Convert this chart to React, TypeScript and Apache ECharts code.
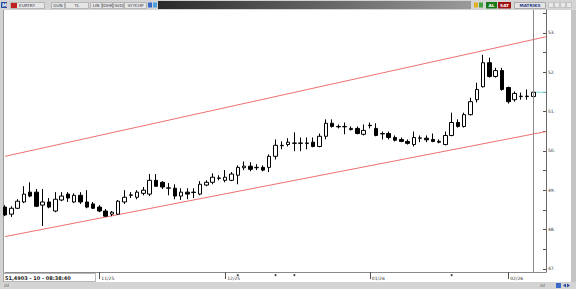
import React, { useEffect, useRef } from 'react';
import * as echarts from 'echarts';

// [open, close, low, high] — daily EURTRY candles
const candles: number[][] = [
  [48.57, 48.37, 48.34, 48.62],
  [48.39, 48.54, 48.32, 48.59],
  [48.54, 48.72, 48.52, 48.77],
  [48.70, 48.90, 48.67, 49.10],
  [48.95, 48.85, 48.82, 49.20],
  [48.95, 48.59, 48.57, 49.03],
  [48.62, 48.70, 48.09, 49.03],
  [48.70, 48.57, 48.54, 48.80],
  [48.47, 48.77, 48.44, 48.95],
  [48.75, 48.85, 48.72, 48.95],
  [48.90, 48.80, 48.70, 48.95],
  [48.70, 48.87, 48.67, 48.92],
  [48.87, 48.70, 48.65, 48.95],
  [48.70, 48.57, 48.54, 49.00],
  [48.65, 48.54, 48.52, 48.70],
  [48.57, 48.47, 48.44, 48.62],
  [48.47, 48.34, 48.32, 48.52],
  [48.39, 48.44, 48.34, 48.47],
  [48.39, 48.72, 48.37, 48.75],
  [48.70, 48.82, 48.65, 49.00],
  [48.87, 48.88, 48.80, 48.95],
  [48.82, 48.95, 48.77, 49.00],
  [48.92, 49.00, 48.87, 49.08],
  [48.90, 49.25, 48.85, 49.41],
  [49.25, 49.10, 49.08, 49.41],
  [49.20, 49.08, 49.03, 49.23],
  [49.05, 49.06, 48.87, 49.18],
  [49.05, 48.85, 48.77, 49.15],
  [48.85, 48.95, 48.75, 49.05],
  [48.95, 48.90, 48.77, 49.05],
  [48.94, 48.95, 48.80, 49.05],
  [48.90, 49.15, 48.87, 49.23],
  [49.13, 49.20, 49.10, 49.25],
  [49.20, 49.33, 49.15, 49.43],
  [49.30, 49.31, 49.25, 49.38],
  [49.25, 49.33, 49.20, 49.51],
  [49.25, 49.41, 49.23, 49.46],
  [49.38, 49.58, 49.15, 49.63],
  [49.57, 49.61, 49.51, 49.73],
  [49.61, 49.53, 49.48, 49.71],
  [49.57, 49.58, 49.51, 49.66],
  [49.58, 49.51, 49.48, 49.63],
  [49.58, 49.86, 49.46, 49.91],
  [49.86, 50.14, 49.78, 50.29],
  [50.13, 50.14, 50.04, 50.24],
  [50.16, 50.22, 50.11, 50.32],
  [50.19, 50.20, 49.99, 50.47],
  [50.19, 50.20, 49.99, 50.34],
  [50.20, 50.19, 50.04, 50.34],
  [50.22, 50.11, 50.09, 50.34],
  [50.11, 50.37, 50.09, 50.44],
  [50.37, 50.70, 50.29, 50.80],
  [50.70, 50.62, 50.59, 50.80],
  [50.62, 50.61, 50.57, 50.67],
  [50.61, 50.62, 50.42, 50.72],
  [50.54, 50.57, 50.52, 50.62],
  [50.57, 50.44, 50.42, 50.62],
  [50.42, 50.52, 50.39, 50.67],
  [50.65, 50.64, 50.57, 50.72],
  [50.57, 50.39, 50.37, 50.70],
  [50.44, 50.43, 50.29, 50.49],
  [50.44, 50.34, 50.29, 50.49],
  [50.34, 50.27, 50.24, 50.39],
  [50.29, 50.24, 50.22, 50.34],
  [50.24, 50.19, 50.16, 50.29],
  [50.16, 50.34, 50.11, 50.49],
  [50.32, 50.33, 50.22, 50.39],
  [50.32, 50.28, 50.22, 50.39],
  [50.29, 50.24, 50.22, 50.44],
  [50.24, 50.22, 50.19, 50.29],
  [50.16, 50.39, 50.14, 50.49],
  [50.39, 50.72, 50.37, 50.97],
  [50.72, 50.62, 50.59, 50.80],
  [50.62, 50.92, 50.59, 50.97],
  [50.92, 51.25, 50.90, 51.35],
  [51.30, 51.56, 51.23, 51.73],
  [51.63, 52.24, 51.61, 52.44],
  [52.24, 51.89, 51.86, 52.37],
  [51.89, 52.04, 51.86, 52.11],
  [52.04, 51.56, 51.53, 52.11],
  [51.61, 51.25, 51.20, 51.63],
  [51.30, 51.46, 51.25, 51.51],
  [51.38, 51.39, 51.30, 51.48],
  [51.39, 51.38, 51.30, 51.56],
  [51.38, 51.49, 51.33, 51.53],
];
const futureSlots = 2;
const monthLabels = ['11/25', '12/25', '01/26', '02/26'];
const monthStartIdx = [15, 35, 58, 80];
const yLabelValues = [47, 48, 49, 50, 51, 52, 53];
const yTickValues = [47, 47.5, 48, 48.5, 49, 49.5, 50, 50.5, 51, 51.5, 52, 52.5, 53, 53.5];
const yMin = 46.92;
const yMax = 53.58;
const upperChannel = [[0, 49.86], [86, 52.9]];
const lowerChannel = [[0, 47.82], [86, 50.49]];
const lastPrice = 51.4903;
const eventIdx = [37, 43, 46, 71];
const eventLevel = 46.84;
const statusText = '51,4903 - 10 - 08:38:40';
const toolbarItems = ['EURTRY', 'GUN', 'TL', 'LIN', 'IOHK', 'SVD', 'SYYCHP'];

const FONT = 'DejaVu Sans';

export default function App() {
  const ref = useRef<HTMLDivElement>(null);
  useEffect(() => {
    if (!ref.current) return;
    const chart = echarts.init(ref.current, undefined, { renderer: 'svg' });
    const N = candles.length + futureSlots;
    const categories = Array.from({ length: N }, (_, i) => String(i));
    const lastIdx = candles.length - 1;

    const tbX = [10, 51, 65, 90, 102, 113, 124];
    const tbW = [34, 13, 23, 11, 10, 10, 22];
    const toolbar: any[] = [
      { type: 'rect', shape: { x: 0, y: 0, width: 576, height: 10 }, style: { fill: '#d4d4d4' } },
      { type: 'rect', shape: { x: 1, y: 2, width: 6, height: 6 }, style: { fill: '#2a4a9a' } },
      { type: 'text', x: 2, y: 5, style: { text: 'M', fill: '#fff', fontSize: 5, fontFamily: FONT, verticalAlign: 'middle', fontWeight: 'bold' } },
    ];
    toolbarItems.forEach((t, i) => {
      toolbar.push({ type: 'rect', shape: { x: tbX[i] + 0.5, y: 2.5, width: tbW[i], height: 6 }, style: { fill: '#e6e6e6', stroke: '#9a9a9a', lineWidth: 0.6 } });
      toolbar.push({ type: 'text', x: tbX[i] + (i === 0 ? 9 : tbW[i] / 2 + 0.5), y: 5.6, style: { text: t, fill: '#334', fontSize: 4.2, fontFamily: FONT, align: i === 0 ? 'left' : 'center', verticalAlign: 'middle' } });
    });
    toolbar.push(
      { type: 'rect', shape: { x: 11, y: 3, width: 6, height: 5 }, style: { fill: '#c02020' } },
      { type: 'rect', shape: { x: 148, y: 2.5, width: 4, height: 5 }, style: { fill: '#3a6ac8' } },
      { type: 'rect', shape: { x: 153, y: 2.5, width: 4, height: 5 }, style: { fill: '#4aa0e0' } },
      {
        type: 'rect', shape: { x: 158, y: 1, width: 313, height: 8 },
        style: { fill: new echarts.graphic.LinearGradient(0, 0, 1, 0, [{ offset: 0, color: '#2a2a2a' }, { offset: 1, color: '#9a9a9a' }]) },
      },
      { type: 'rect', shape: { x: 474, y: 2.5, width: 4, height: 5 }, style: { fill: '#e0b020' } },
      { type: 'rect', shape: { x: 479, y: 2.5, width: 4, height: 5 }, style: { fill: '#40a040' } },
      { type: 'rect', shape: { x: 486, y: 2, width: 11, height: 6.5 }, style: { fill: '#1a7a1a' } },
      { type: 'text', x: 491.5, y: 5.4, style: { text: 'AL', fill: '#fff', fontSize: 4.2, fontFamily: FONT, align: 'center', verticalAlign: 'middle', fontWeight: 'bold' } },
      { type: 'rect', shape: { x: 498, y: 2, width: 13, height: 6.5 }, style: { fill: '#a01212' } },
      { type: 'text', x: 504.5, y: 5.4, style: { text: 'SAT', fill: '#fff', fontSize: 4.2, fontFamily: FONT, align: 'center', verticalAlign: 'middle', fontWeight: 'bold' } },
      { type: 'rect', shape: { x: 514.5, y: 2.5, width: 31, height: 6 }, style: { fill: '#e4e4e4', stroke: '#8a8a8a', lineWidth: 0.6 } },
      { type: 'text', x: 530, y: 5.6, style: { text: 'MATRIKS', fill: '#2a3a88', fontSize: 4.2, fontFamily: FONT, align: 'center', verticalAlign: 'middle', fontWeight: 'bold' } },
      { type: 'rect', shape: { x: 548.5, y: 2.5, width: 5, height: 5 }, style: { fill: '#e8e8e8', stroke: '#aaa', lineWidth: 0.5 } },
      { type: 'rect', shape: { x: 554.5, y: 2.5, width: 5, height: 5 }, style: { fill: '#e8e8e8', stroke: '#aaa', lineWidth: 0.5 } },
      { type: 'rect', shape: { x: 560.5, y: 2.5, width: 5, height: 5 }, style: { fill: '#e8e8e8', stroke: '#aaa', lineWidth: 0.5 } },
      { type: 'rect', shape: { x: 566.5, y: 2.5, width: 5, height: 5 }, style: { fill: '#e8e8e8', stroke: '#aaa', lineWidth: 0.5 } },
    );

    const frame: any[] = [
      { type: 'rect', shape: { x: 0, y: 10, width: 3, height: 279 }, style: { fill: '#d2d2d2' } },
      { type: 'line', shape: { x1: 3.5, y1: 10, x2: 3.5, y2: 282 }, style: { stroke: '#9a9a9a', lineWidth: 1 } },
      { type: 'rect', shape: { x: 571, y: 0, width: 5, height: 289 }, style: { fill: '#c4c4c4' } },
      { type: 'rect', shape: { x: 0, y: 282, width: 576, height: 7 }, style: { fill: '#d4d4d4' } },
      { type: 'rect', shape: { x: 3.5, y: 273.5, width: 92, height: 8 }, style: { fill: '#ffffff', stroke: '#9a9a9a', lineWidth: 0.7 } },
      { type: 'text', x: 5, y: 277.8, style: { text: statusText, fill: '#1a1a1a', fontSize: 5, fontFamily: FONT, fontWeight: 'bold', verticalAlign: 'middle' } },
      { type: 'text', x: 4, y: 285.5, style: { text: 'ılıl', fill: '#555', fontSize: 4.5, fontFamily: FONT, verticalAlign: 'middle' } },
      { type: 'text', x: 540, y: 285.5, style: { text: 'ılıl', fill: '#555', fontSize: 4.5, fontFamily: FONT, verticalAlign: 'middle' } },
      { type: 'rect', shape: { x: 556, y: 283, width: 5, height: 5 }, style: { fill: '#3a6ac8' } },
      { type: 'polygon', shape: { points: [[563, 285.5], [566, 283.5], [566, 287.5]] }, style: { fill: '#2a4a9a' } },
      { type: 'polygon', shape: { points: [[570, 285.5], [567, 283.5], [567, 287.5]] }, style: { fill: '#2a4a9a' } },
    ];

    const option: any = {
      animation: false,
      backgroundColor: '#ffffff',
      grid: { left: 5, right: 30, top: 10, bottom: 17 },
      xAxis: [
        {
          type: 'category',
          data: categories,
          boundaryGap: false,
          axisLine: { show: true, onZero: false, lineStyle: { color: '#8a8a8a', width: 1 } },
          axisTick: {
            show: true,
            length: 7,
            interval: (i: number) => monthStartIdx.includes(i),
            lineStyle: { color: '#555' },
          },
          axisLabel: {
            show: true,
            interval: (i: number) => monthStartIdx.includes(i),
            formatter: (_v: string, i: number) => {
              const k = monthStartIdx.indexOf(i);
              return k >= 0 ? monthLabels[k] : '';
            },
            align: 'left',
            margin: 4,
            padding: [0, 0, 0, 2],
            fontSize: 4.5,
            color: '#333',
            fontFamily: FONT,
          },
          splitLine: { show: false },
        },
        { type: 'value', min: 0, max: N - 1, show: false },
      ],
      yAxis: {
        type: 'value',
        position: 'right',
        min: yMin,
        max: yMax,
        axisLine: { show: true, onZero: false, lineStyle: { color: '#6a6a6a', width: 1 } },
        axisTick: { show: true, inside: true, length: 3, customValues: yTickValues, lineStyle: { color: '#555' } },
        axisLabel: {
          show: true,
          customValues: yLabelValues,
          formatter: (v: number) => `${v}.`,
          margin: 2,
          fontSize: 4.5,
          color: '#333',
          fontFamily: FONT,
        },
        splitLine: { show: false },
      },
      graphic: { elements: [...frame, ...toolbar] },
      series: [
        {
          type: 'candlestick',
          data: candles,
          barWidth: 4,
          itemStyle: { color: '#ffffff', color0: '#000000', borderColor: '#000000', borderColor0: '#000000', borderWidth: 1 },
          markLine: {
            silent: true,
            symbol: 'none',
            label: { show: false },
            lineStyle: { color: '#8a8a8a', width: 1, type: 'solid' },
            data: [{ xAxis: lastIdx }],
          },
          z: 3,
        },
        {
          type: 'line', xAxisIndex: 1, data: upperChannel, symbol: 'none',
          lineStyle: { color: '#f07070', width: 1 }, z: 2,
        },
        {
          type: 'line', xAxisIndex: 1, data: lowerChannel, symbol: 'none',
          lineStyle: { color: '#f07070', width: 1 }, z: 2,
        },
        {
          type: 'line', xAxisIndex: 1, data: [[lastIdx, lastPrice], [N - 1, lastPrice]], symbol: 'none',
          lineStyle: { color: '#7fd8d8', width: 1 }, z: 2,
        },
        {
          type: 'scatter', xAxisIndex: 1, data: eventIdx.map((i) => [i, eventLevel]),
          symbolSize: 2, itemStyle: { color: '#111' }, clip: false, z: 4,
        },
      ],
    };
    chart.setOption(option);
    return () => chart.dispose();
  }, []);
  return <div ref={ref} style={{ position: 'fixed', left: 0, top: 0, width: 576, height: 289 }} />;
}
